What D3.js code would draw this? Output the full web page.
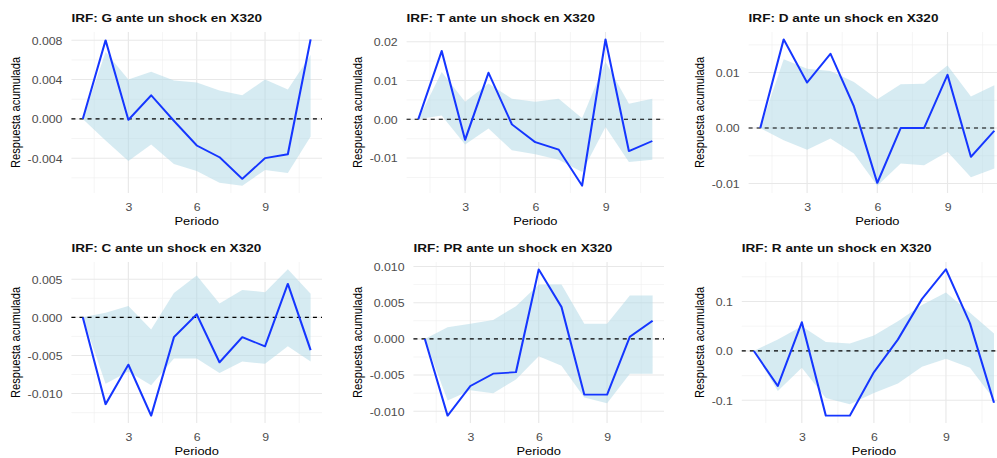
<!DOCTYPE html>
<html>
  <head>
    <meta charset="utf-8">
    <title>IRF ante un shock en X320</title>
    <style>
      body { margin: 0; background: #fff; }
      svg { display: block; font-family: "Liberation Sans", Arial, sans-serif; }
    </style>
  </head>
  <body>
    <div class="chart"></div>
    <script src="https://cdnjs.cloudflare.com/ajax/libs/d3/7.8.5/d3.min.js"></script>
    <script>
      // periodos del IRF
      var periods = [1, 2, 3, 4, 5, 6, 7, 8, 9, 10, 11];
      var xBreaks = [3, 6, 9];

      // respuesta acumulada + bandas (lo / hi) por variable
      var gIrf = [0, 0.0080, -0.0001, 0.0024, -0.0002, -0.0027, -0.0039, -0.0061, -0.0040, -0.0036, 0.0081];
      var gHi  = [0, 0.0068, 0.0040, 0.0048, 0.0039, 0.0037, 0.0029, 0.0024, 0.0040, 0.0030, 0.0065];
      var gLo  = [0, -0.0022, -0.0043, -0.0026, -0.0046, -0.0053, -0.0065, -0.0068, -0.0052, -0.0055, -0.0018];

      var tIrf = [0, 0.0176, -0.0053, 0.0120, -0.0013, -0.0059, -0.0078, -0.0171, 0.0206, -0.0082, -0.0056];
      var tHi  = [0, 0.0122, 0.0045, 0.0092, 0.0053, 0.0045, 0.0053, 0.0003, 0.0148, 0.0040, 0.0053];
      var tLo  = [0, 0.0010, -0.0065, -0.0024, -0.0080, -0.0090, -0.0104, -0.0136, -0.0020, -0.0110, -0.0104];

      var dIrf = [0, 0.0160, 0.0082, 0.0134, 0.0039, -0.0099, 0, 0, 0.0096, -0.0052, -0.0005];
      var dHi  = [0, 0.0124, 0.0107, 0.0103, 0.0083, 0.0052, 0.0079, 0.0080, 0.0113, 0.0057, 0.0077];
      var dLo  = [0, -0.0022, -0.0039, -0.0019, -0.0046, -0.0104, -0.0064, -0.0067, -0.0043, -0.0089, -0.0073];

      var cIrf = [0, -0.0114, -0.0062, -0.0129, -0.0026, 0.0004, -0.0059, -0.0026, -0.0038, 0.0044, -0.0043];
      var cHi  = [0, 0.0006, 0.0015, -0.0016, 0.0032, 0.0055, 0.0018, 0.0036, 0.0033, 0.0063, 0.0031];
      var cLo  = [0, -0.0087, -0.0071, -0.0089, -0.0054, -0.0054, -0.0073, -0.0058, -0.0061, -0.0038, -0.0058];

      var prIrf = [0, -0.0106, -0.0065, -0.0048, -0.0046, 0.0096, 0.0044, -0.0077, -0.0077, 0.0003, 0.0025];
      var prHi  = [0, 0.0016, 0.0021, 0.0026, 0.0045, 0.0075, 0.0075, 0.0021, 0.0021, 0.0060, 0.0060];
      var prLo  = [0, -0.0085, -0.0071, -0.0075, -0.0056, -0.0024, -0.0037, -0.0081, -0.0089, -0.0048, -0.0048];

      var rIrf = [0, -0.071, 0.058, -0.131, -0.131, -0.043, 0.023, 0.105, 0.165, 0.056, -0.105];
      var rHi  = [0, 0.023, 0.050, 0.018, 0.015, 0.031, 0.060, 0.093, 0.118, 0.077, 0.035];
      var rLo  = [0, -0.081, -0.034, -0.095, -0.108, -0.085, -0.066, -0.032, -0.016, -0.034, -0.098];

      // ticks del eje y
      var gBreaks = [-0.004, 0, 0.004, 0.008];
      var gLabels = ["-0.004", "0.000", "0.004", "0.008"];
      var tBreaks = [-0.01, 0, 0.01, 0.02];
      var tLabels = ["-0.01", "0.00", "0.01", "0.02"];
      var dBreaks = [-0.01, 0, 0.01];
      var dLabels = ["-0.01", "0.00", "0.01"];
      var cBreaks = [-0.01, -0.005, 0, 0.005];
      var cLabels = ["-0.010", "-0.005", "0.000", "0.005"];
      var prBreaks = [-0.01, -0.005, 0, 0.005, 0.01];
      var prLabels = ["-0.010", "-0.005", "0.000", "0.005", "0.010"];
      var rBreaks = [-0.1, 0, 0.1];
      var rLabels = ["-0.1", "0.0", "0.1"];

      var panels = [
        {title: "IRF: G ante un shock en X320", irf: gIrf, lo: gLo, hi: gHi, breaks: gBreaks, labels: gLabels},
        {title: "IRF: T ante un shock en X320", irf: tIrf, lo: tLo, hi: tHi, breaks: tBreaks, labels: tLabels},
        {title: "IRF: D ante un shock en X320", irf: dIrf, lo: dLo, hi: dHi, breaks: dBreaks, labels: dLabels},
        {title: "IRF: C ante un shock en X320", irf: cIrf, lo: cLo, hi: cHi, breaks: cBreaks, labels: cLabels},
        {title: "IRF: PR ante un shock en X320", irf: prIrf, lo: prLo, hi: prHi, breaks: prBreaks, labels: prLabels},
        {title: "IRF: R ante un shock en X320", irf: rIrf, lo: rLo, hi: rHi, breaks: rBreaks, labels: rLabels}
      ];

      // the reference is stretched horizontally, so draw in a narrower space and stretch it
      var SX = 1.15;
      var W = 997, H = 458;
      var innerW = W / SX;
      var plotW = 297.4, rowH = 230;
      var panelTop = 32, panelBottom = 193;

      var svg = d3.select(".chart").append("svg")
        .attr("width", W)
        .attr("height", H)
        .attr("viewBox", "0 0 " + innerW + " " + H)
        .attr("preserveAspectRatio", "none");

      // minor breaks half way between majors, like ggplot
      function minorBreaks(breaks, domain) {
        var step = breaks[1] - breaks[0];
        var out = [];
        for (var v = breaks[0] - step / 2; v <= domain[1] + 1e-12; v += step) {
          if (v >= domain[0]) out.push(v);
        }
        return out;
      }

      panels.forEach(function(p, i) {
        var ox = (i % 3) * plotW;
        var oy = Math.floor(i / 3) * rowH;
        var panelRight = ox + 280;

        var all = p.irf.concat(p.lo, p.hi);
        var mn = d3.min(all), mx = d3.max(all);
        var pad = (mx - mn) * 0.05;
        var y = d3.scaleLinear().domain([mn - pad, mx + pad]).range([oy + panelBottom, oy + panelTop]);

        var gridG = svg.append("g");
        var dataG = svg.append("g");
        var axisG = svg.append("g");

        // y tick labels first, to know how wide they are
        var yAxisG = axisG.append("g")
          .call(d3.axisLeft(y)
            .tickValues(p.breaks)
            .tickFormat(function(d, k) { return p.labels[k]; })
            .tickSize(0)
            .tickPadding(7.8));
        yAxisG.select(".domain").remove();
        yAxisG.selectAll("text")
          .attr("font-size", 10.7)
          .attr("font-family", "Liberation Sans, Arial, sans-serif")
          .attr("fill", "#4d4d4d")
          .attr("dy", "0.36em");
        var maxW = 0;
        yAxisG.selectAll("text").each(function() {
          maxW = Math.max(maxW, this.getComputedTextLength());
        });
        var left = ox + 24 + maxW + 7.8;
        yAxisG.attr("transform", "translate(" + left + ",0)");

        var x = d3.scaleLinear().domain([0.5, 11.5]).range([left, panelRight]);

        // grid
        var xMinor = minorBreaks(xBreaks, x.domain());
        var yMinor = minorBreaks(p.breaks, y.domain());
        gridG.selectAll(".xminor").data(xMinor).enter().append("line")
          .attr("x1", x).attr("x2", x)
          .attr("y1", oy + panelTop).attr("y2", oy + panelBottom)
          .attr("stroke", "#f0f0f0").attr("stroke-width", 0.6);
        gridG.selectAll(".yminor").data(yMinor).enter().append("line")
          .attr("x1", left).attr("x2", panelRight)
          .attr("y1", y).attr("y2", y)
          .attr("stroke", "#f0f0f0").attr("stroke-width", 0.6);
        gridG.selectAll(".xmajor").data(xBreaks).enter().append("line")
          .attr("x1", x).attr("x2", x)
          .attr("y1", oy + panelTop).attr("y2", oy + panelBottom)
          .attr("stroke", "#e8e8e8").attr("stroke-width", 1);
        gridG.selectAll(".ymajor").data(p.breaks).enter().append("line")
          .attr("x1", left).attr("x2", panelRight)
          .attr("y1", y).attr("y2", y)
          .attr("stroke", "#e8e8e8").attr("stroke-width", 1);

        // band
        var area = d3.area()
          .x(function(d, k) { return x(periods[k]); })
          .y0(function(d, k) { return y(p.lo[k]); })
          .y1(function(d, k) { return y(p.hi[k]); });
        dataG.append("path")
          .datum(periods)
          .attr("d", area)
          .attr("fill", "#add8e6")
          .attr("fill-opacity", 0.5);

        // zero line
        dataG.append("line")
          .attr("x1", left).attr("x2", panelRight)
          .attr("y1", y(0)).attr("y2", y(0))
          .attr("stroke", "#000")
          .attr("stroke-width", 1.1)
          .attr("stroke-dasharray", "3.5,3.5");

        // irf line
        var line = d3.line()
          .x(function(d, k) { return x(periods[k]); })
          .y(function(d) { return y(d); });
        dataG.append("path")
          .datum(p.irf)
          .attr("d", line)
          .attr("fill", "none")
          .attr("stroke", "#1536ff")
          .attr("stroke-width", 1.8)
          .attr("stroke-linejoin", "round");

        // x tick labels
        var xAxisG = axisG.append("g")
          .attr("transform", "translate(0," + (oy + panelBottom) + ")")
          .call(d3.axisBottom(x).tickValues(xBreaks).tickFormat(d3.format("d")).tickSize(0).tickPadding(0));
        xAxisG.select(".domain").remove();
        xAxisG.selectAll("text")
          .attr("font-size", 10.7)
          .attr("font-family", "Liberation Sans, Arial, sans-serif")
          .attr("fill", "#4d4d4d")
          .attr("y", 18.5)
          .attr("dy", null);

        // titles
        axisG.append("text")
          .attr("x", left)
          .attr("y", oy + 22)
          .attr("font-size", 11.8)
          .attr("font-weight", "bold")
          .attr("fill", "#111")
          .text(p.title);

        axisG.append("text")
          .attr("x", (left + panelRight) / 2)
          .attr("y", oy + 225.5)
          .attr("text-anchor", "middle")
          .attr("font-size", 11.2)
          .attr("fill", "#000")
          .text("Periodo");

        axisG.append("text")
          .attr("transform", "translate(" + (ox + 17.3) + "," + (oy + (panelTop + panelBottom) / 2) + ") rotate(-90)")
          .attr("text-anchor", "middle")
          .attr("font-size", 11.2)
          .attr("fill", "#000")
          .text("Respuesta acumulada");
      });
    </script>
  </body>
</html>
